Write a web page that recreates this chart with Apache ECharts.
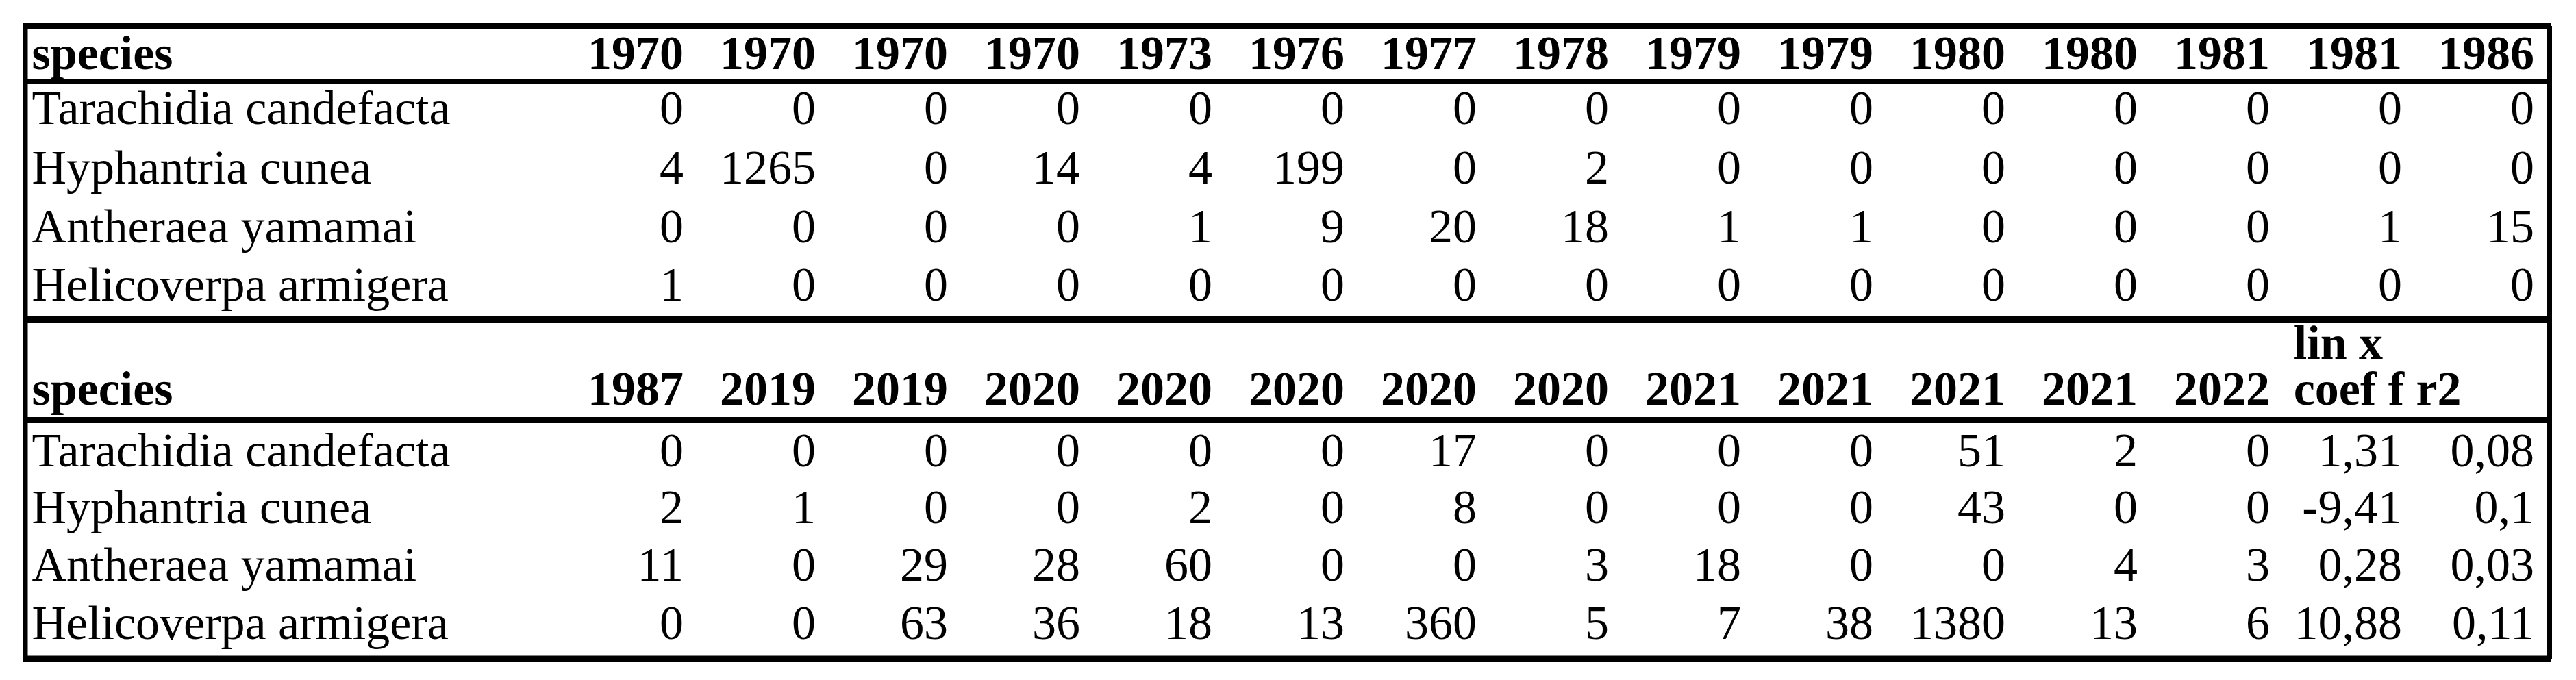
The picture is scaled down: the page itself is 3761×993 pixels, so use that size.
<!DOCTYPE html>
<html>
<head>
<meta charset="utf-8">
<script src="https://cdn.jsdelivr.net/npm/echarts@6/dist/echarts.min.js"></script>
<style>html,body{margin:0;padding:0;background:#fff}#main{width:3761px;height:993px}</style>
</head>
<body>
<div id="main"></div>
<script>
var species = ['Tarachidia candefacta', 'Hyphantria cunea', 'Antheraea yamamai', 'Helicoverpa armigera'];
var years1 = ['1970', '1970', '1970', '1970', '1973', '1976', '1977', '1978', '1979', '1979', '1980', '1980', '1981', '1981', '1986'];
var years2 = ['1987', '2019', '2019', '2020', '2020', '2020', '2020', '2020', '2021', '2021', '2021', '2021', '2022'];
var values1 = [
    [0, 0, 0, 0, 0, 0, 0, 0, 0, 0, 0, 0, 0, 0, 0],
    [4, 1265, 0, 14, 4, 199, 0, 2, 0, 0, 0, 0, 0, 0, 0],
    [0, 0, 0, 0, 1, 9, 20, 18, 1, 1, 0, 0, 0, 1, 15],
    [1, 0, 0, 0, 0, 0, 0, 0, 0, 0, 0, 0, 0, 0, 0]
];
var values2 = [
    [0, 0, 0, 0, 0, 0, 17, 0, 0, 0, 51, 2, 0],
    [2, 1, 0, 0, 2, 0, 8, 0, 0, 0, 43, 0, 0],
    [11, 0, 29, 28, 60, 0, 0, 3, 18, 0, 0, 4, 3],
    [0, 0, 63, 36, 18, 13, 360, 5, 7, 38, 1380, 13, 6]
];
var linCoef = ['1,31', '-9,41', '0,28', '10,88'];
var r2 = ['0,08', '0,1', '0,03', '0,11'];

// layout: vertical centres of the rows (pixels), column index -> right edge on x axis
var rowY1 = [160, 247, 333, 418];
var rowY2 = [660, 743, 827, 912];
var head1Y = 80, head2Y = 570, head2TopY = 503;
var nameCol = -4.93;

var cells = [];
function cell(x, y, text, bold, align) { cells.push([x, y, String(text), bold ? 1 : 0, align]); }
cell(nameCol, head1Y, 'species', true, 'left');
years1.forEach(function (y, i) { cell(i, head1Y, y, true, 'right'); });
species.forEach(function (s, r) {
    cell(nameCol, rowY1[r], s, false, 'left');
    values1[r].forEach(function (v, i) { cell(i, rowY1[r], v, false, 'right'); });
});
cell(nameCol, head2Y, 'species', true, 'left');
years2.forEach(function (y, i) { cell(i, head2Y, y, true, 'right'); });
cell(12.18, head2TopY, 'lin x', true, 'left');
cell(12.18, head2Y, 'coef f r2', true, 'left');
species.forEach(function (s, r) {
    cell(nameCol, rowY2[r], s, false, 'left');
    values2[r].forEach(function (v, i) { cell(i, rowY2[r], v, false, 'right'); });
    cell(13, rowY2[r], linCoef[r], false, 'right');
    cell(14, rowY2[r], r2[r], false, 'right');
});

var myChart = echarts.init(document.getElementById('main'));
var L = 37, R = 3722, T = 38, B = 962;
function hline(y, w) {
    return {type: 'line', shape: {x1: L - 3, y1: y, x2: R + 3, y2: y}, style: {stroke: '#000', lineWidth: w}};
}
myChart.setOption({
    backgroundColor: '#fff',
    animation: false,
    grid: {left: 0, right: 0, top: 0, bottom: 0},
    xAxis: {type: 'value', min: -998 / 193, max: (3761 - 998) / 193, show: false},
    yAxis: {type: 'value', min: 0, max: 993, inverse: true, show: false},
    graphic: [
        hline(T, 8), hline(119, 8), hline(467, 10), hline(613, 8), hline(B, 9),
        {type: 'line', shape: {x1: L, y1: T, x2: L, y2: B}, style: {stroke: '#000', lineWidth: 7}},
        {type: 'line', shape: {x1: R, y1: T, x2: R, y2: B}, style: {stroke: '#000', lineWidth: 8}}
    ],
    series: [{
        type: 'custom',
        data: cells,
        renderItem: function (params, api) {
            var c = cells[params.dataIndex];
            var p = api.coord([c[0], c[1]]);
            return {
                type: 'text',
                style: {
                    text: c[2], x: p[0], y: p[1] + 3,
                    font: (c[3] ? 'bold ' : '') + '70px "Liberation Serif"',
                    fill: '#000', align: c[4], verticalAlign: 'middle'
                }
            };
        }
    }]
});
</script>
</body>
</html>
